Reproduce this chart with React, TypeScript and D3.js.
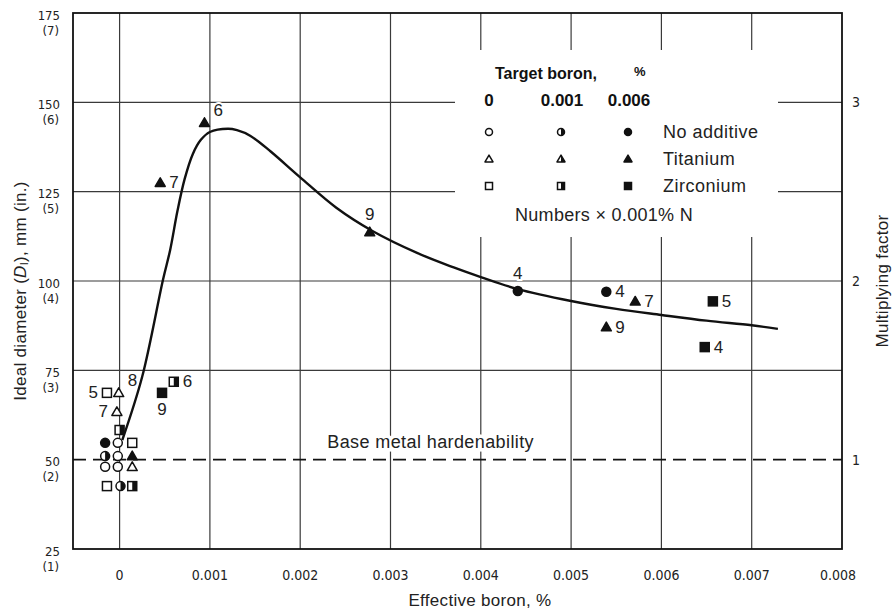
import React from 'react'
import * as d3 from 'd3'

// axis ticks
const xTicks = [0, 0.001, 0.002, 0.003, 0.004, 0.005, 0.006, 0.007, 0.008]
const xTickLabels = ['0', '0.001', '0.002', '0.003', '0.004', '0.005', '0.006', '0.007', '0.008']
const yTicks = [25, 50, 75, 100, 125, 150, 175]
const yTickInches = ['(1)', '(2)', '(3)', '(4)', '(5)', '(6)', '(7)']
const yGrid = [75, 100, 125, 150]
const factorTicks = [1, 2, 3]
const baseMetal = 50

// legend
const targetBoron = [0, 0.001, 0.006]
const targetLabels = ['0', '0.001', '0.006']
const additives = ['No additive', 'Titanium', 'Zirconium']
const shapes = ['circle', 'triangle', 'square']

// fitted curve (effective boron %, ideal diameter mm)
const curveB = [0.00003, 0.00025, 0.00048, 0.00056, 0.00064, 0.00072, 0.00081, 0.0009, 0.001, 0.0012, 0.0013,
  0.00145, 0.00167, 0.002, 0.0024, 0.0028, 0.0033, 0.0037, 0.004, 0.0044, 0.005, 0.0055, 0.006, 0.0065, 0.007, 0.00729]
const curveD = [55.5, 73.2, 100.3, 108.7, 119.5, 128.5, 135.5, 139.5, 141.7, 142.6, 142.2,
  140.6, 136.3, 129, 120.5, 114, 107.8, 103.8, 101.1, 97.8, 94.4, 92.2, 90.5, 88.9, 87.6, 86.6]

// points: b = effective boron, d = diameter, t = target boron, n = nitrogen label, side = label side
const noAdditive = [
  { b: -0.00016, d: 54.7, t: 0.006 },
  { b: -0.00002, d: 54.7, t: 0 },
  { b: -0.00016, d: 51.0, t: 0.001 },
  { b: -0.00002, d: 51.0, t: 0 },
  { b: -0.00016, d: 48.0, t: 0 },
  { b: -0.00002, d: 48.0, t: 0 },
  { b: 0.00001, d: 42.6, t: 0.001 },
  { b: 0.00441, d: 97.2, t: 0.006, n: '4', side: 't' },
  { b: 0.00539, d: 97.0, t: 0.006, n: '4', side: 'r' }
]
const titanium = [
  { b: -0.00001, d: 68.7, t: 0, n: '8', side: 'tr' },
  { b: -0.00003, d: 63.4, t: 0, n: '7', side: 'l' },
  { b: 0.00014, d: 51.0, t: 0.006 },
  { b: 0.00014, d: 48.0, t: 0 },
  { b: 0.00045, d: 127.5, t: 0.006, n: '7', side: 'r' },
  { b: 0.00094, d: 144.3, t: 0.006, n: '6', side: 'tr' },
  { b: 0.00277, d: 113.7, t: 0.006, n: '9', side: 't' },
  { b: 0.00571, d: 94.3, t: 0.006, n: '7', side: 'r' },
  { b: 0.00539, d: 87.1, t: 0.006, n: '9', side: 'r' }
]
const zirconium = [
  { b: -0.00014, d: 68.7, t: 0, n: '5', side: 'l' },
  { b: 0.0, d: 58.3, t: 0.001 },
  { b: 0.00014, d: 54.7, t: 0 },
  { b: -0.00014, d: 42.6, t: 0 },
  { b: 0.00014, d: 42.6, t: 0.001 },
  { b: 0.00047, d: 68.7, t: 0.006, n: '9', side: 'b' },
  { b: 0.0006, d: 71.8, t: 0.001, n: '6', side: 'r' },
  { b: 0.00657, d: 94.3, t: 0.006, n: '5', side: 'r' },
  { b: 0.00648, d: 81.5, t: 0.006, n: '4', side: 'r' }
]

const W = 894, H = 614
const margin = { top: 13, right: 52, bottom: 65, left: 73 }
const font = 'Liberation Sans, Arial, Helvetica, sans-serif'
const narrow = 'Liberation Sans Narrow, DejaVu Sans Condensed, Arial Narrow, sans-serif'

function Marker({ shape, t, cx, cy, s }: { shape: string, t: number, cx: number, cy: number, s: number }) {
  const fillAll = t >= 0.006 ? '#111' : '#fff'
  const half = t > 0 && t < 0.006
  const sw = 1.5
  if (shape === 'circle') {
    const r = s / 2
    return (
      <g>
        <circle cx={cx} cy={cy} r={r} fill={fillAll} stroke="#111" strokeWidth={sw} />
        {half && <path d={`M${cx},${cy - r}A${r},${r} 0 0 1 ${cx},${cy + r}Z`} fill="#111" />}
      </g>
    )
  }
  if (shape === 'square') {
    const h = s / 2
    return (
      <g>
        <rect x={cx - h} y={cy - h} width={s} height={s} fill={fillAll} stroke="#111" strokeWidth={sw} />
        {half && <rect x={cx} y={cy - h} width={h} height={s} fill="#111" />}
      </g>
    )
  }
  const h = s * 0.55
  const top = cy - h, bot = cy + h * 0.75
  return (
    <g>
      <path d={`M${cx},${top}L${cx + s / 2 + 0.5},${bot}L${cx - s / 2 - 0.5},${bot}Z`} fill={fillAll} stroke="#111" strokeWidth={sw} strokeLinejoin="round" />
      {half && <path d={`M${cx},${top}L${cx + s / 2 + 0.5},${bot}L${cx},${bot}Z`} fill="#111" />}
    </g>
  )
}

export default function App() {
  const x = d3.scaleLinear().domain([-0.000516, 0.008]).range([margin.left, W - margin.right])
  const y = d3.scaleLinear().domain([25, 175]).range([H - margin.bottom, margin.top])
  const yFactor = d3.scaleLinear().domain([25 / baseMetal, 175 / baseMetal]).range([H - margin.bottom, margin.top])
  const x0 = margin.left, x1 = W - margin.right, y0 = margin.top, y1 = H - margin.bottom

  const line = d3.line<number>()
    .x((_, i) => x(curveB[i]))
    .y(d => y(d))
    .curve(d3.curveCatmullRom.alpha(0.5))

  const series = [noAdditive, titanium, zirconium]

  const labelPos = (side: string, cx: number, cy: number) => {
    if (side === 'r') return { lx: cx + 9, ly: cy, anchor: 'start' }
    if (side === 'l') return { lx: cx - 9, ly: cy, anchor: 'end' }
    if (side === 't') return { lx: cx, ly: cy - 18, anchor: 'middle' }
    if (side === 'b') return { lx: cx, ly: cy + 17, anchor: 'middle' }
    return { lx: cx + 9, ly: cy - 12, anchor: 'start' }
  }

  // legend layout
  const legX = 455, legY = 50, legW = 323, legH = 187
  const colX = [489, 561, 628]
  const rowY = [132, 159, 186]

  return (
    <svg width={W} height={H} style={{ position: 'absolute', left: 0, top: 0, display: 'block', background: '#fff' }}
      fontFamily={font}>
      {/* grid */}
      <g stroke="#3a3a3a" strokeWidth={1.2}>
        {xTicks.slice(0, -1).map(v => (
          <line key={'gx' + v} x1={x(v)} x2={x(v)} y1={y0} y2={y1} />
        ))}
        {yGrid.map(v => (
          <line key={'gy' + v} x1={x0} x2={x1} y1={y(v)} y2={y(v)} />
        ))}
      </g>
      {/* base metal hardenability */}
      <line x1={x0} x2={x1} y1={y(baseMetal)} y2={y(baseMetal)} stroke="#111" strokeWidth={1.6} strokeDasharray="13,7" />
      <text x={x(0.0023)} y={y(baseMetal) - 18} fontSize={18} letterSpacing={0.4} fill="#222"
        stroke="#fff" strokeWidth={7} paintOrder="stroke" dominantBaseline="central">Base metal hardenability</text>

      {/* legend box */}
      <rect x={legX} y={legY} width={legW} height={legH} fill="#fff" />
      <g fill="#111">
        <text x={495} y={73} fontSize={16} fontWeight="bold" dominantBaseline="central">Target boron,</text>
        <text x={634} y={71} fontSize={13} fontWeight="bold" dominantBaseline="central">%</text>
        {targetLabels.map((l, i) => (
          <text key={l} x={colX[i] + (i === 0 ? 0 : 1)} y={100} fontSize={17} fontWeight="bold" textAnchor="middle" dominantBaseline="central">{l}</text>
        ))}
        {additives.map((a, r) => (
          <g key={a}>
            {targetBoron.map((t, c) => (
              <Marker key={c} shape={shapes[r]} t={t} cx={colX[c]} cy={rowY[r]} s={7} />
            ))}
            <text x={663} y={rowY[r]} fontSize={18} letterSpacing={0.5} dominantBaseline="central" fill="#222">{a}</text>
          </g>
        ))}
        <text x={515} y={215} fontSize={18} letterSpacing={0.3} dominantBaseline="central" fill="#222">Numbers × 0.001% N</text>
      </g>

      {/* curve */}
      <path d={line(curveD) || ''} fill="none" stroke="#111" strokeWidth={2.4} />

      {/* points */}
      {series.map((pts, si) => pts.map((p, i) => {
        const cx = x(p.b), cy = y(p.d)
        const lp = p.n ? labelPos(p.side || 'r', cx, cy) : null
        return (
          <g key={si + '-' + i}>
            <Marker shape={shapes[si]} t={p.t} cx={cx} cy={cy} s={9} />
            {lp && (
              <text x={lp.lx} y={lp.ly} fontSize={17} textAnchor={lp.anchor} dominantBaseline="central" fill="#222"
                stroke="#fff" strokeWidth={4} paintOrder="stroke">{p.n}</text>
            )}
          </g>
        )
      }))}

      {/* frame */}
      <rect x={x0} y={y0} width={x1 - x0} height={y1 - y0} fill="none" stroke="#111" strokeWidth={1.8} />

      {/* left axis */}
      <g fontFamily={narrow} fontSize={13} fill="#222" textAnchor="end">
        {yTicks.map((v, i) => (
          <g key={'yl' + v}>
            <text x={60} y={y(v) + 2} dominantBaseline="central">{v}</text>
            <text x={59} y={y(v) + 17} dominantBaseline="central">{yTickInches[i]}</text>
          </g>
        ))}
      </g>
      <text transform={`translate(20,${(y0 + y1) / 2 + 10}) rotate(-90)`} textAnchor="middle" fontSize={17} letterSpacing={0.3} fill="#222"
        dominantBaseline="central">
        Ideal diameter (<tspan fontStyle="italic">D</tspan><tspan fontSize={11} dy={4}>I</tspan><tspan dy={-4}>), mm (in.)</tspan>
      </text>

      {/* right axis */}
      <g fontFamily={narrow} fontSize={14} fill="#222">
        {factorTicks.map(v => (
          <text key={'f' + v} x={x1 + 10} y={yFactor(v)} dominantBaseline="central">{v}</text>
        ))}
      </g>
      <text transform={`translate(882,${(y0 + y1) / 2}) rotate(-90)`} textAnchor="middle" fontSize={17} letterSpacing={0.3} fill="#222"
        dominantBaseline="central">Multiplying factor</text>

      {/* bottom axis */}
      <g fontFamily={narrow} fontSize={14} fill="#222" textAnchor="middle">
        {xTicks.map((v, i) => (
          <text key={'xl' + v} x={x(v) + (i === xTicks.length - 1 ? -4 : 0)} y={y1 + 26} dominantBaseline="central">{xTickLabels[i]}</text>
        ))}
      </g>
      <text x={480} y={y1 + 51} textAnchor="middle" fontSize={17} letterSpacing={0.3} fill="#222" dominantBaseline="central">Effective boron, %</text>
    </svg>
  )
}
